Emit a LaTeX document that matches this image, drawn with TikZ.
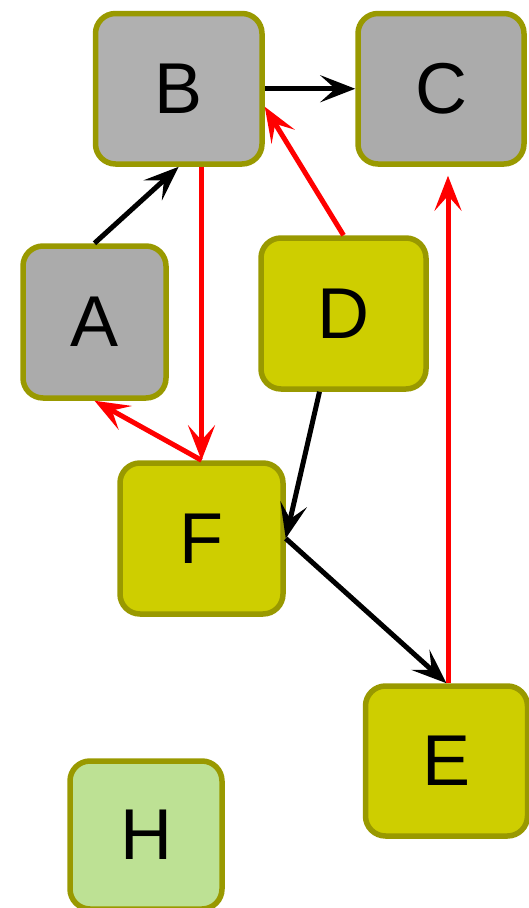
\documentclass[tikz,border=0pt]{standalone}
\usepackage{fontspec}
\setmainfont{Liberation Sans}
\usetikzlibrary{arrows.meta,calc}
\definecolor{olivebd}{RGB}{153,153,0}
\definecolor{grayB}{RGB}{176,176,176}
\definecolor{grayA}{RGB}{171,171,171}
\definecolor{yel}{RGB}{206,206,0}
\definecolor{lgreen}{RGB}{189,225,148}
\definecolor{redl}{RGB}{255,0,0}
\begin{document}
\begin{tikzpicture}[x=1pt,y=-1pt,
  box/.style={draw=olivebd, line width=5.5pt, rounded corners=20pt, inner sep=0pt,
    font=\fontsize{72}{80}\selectfont, text=black},
  link/.style={line width=5pt, -{Stealth[length=35pt,width=27pt,inset=15pt]}},
  blk/.style={link, draw=black},
  rd/.style={link, draw=redl, fill=redl}
]
\useasboundingbox (0,0) rectangle (529,908);
\node[box, fill=grayB, minimum width=166.5pt, minimum height=150.5pt] (B) at (178.75,88.75) {B};
\node[box, fill=grayA, minimum width=166pt, minimum height=150.5pt] (C) at (441,88.75) {C};
\node[box, fill=grayA, minimum width=143pt, minimum height=152pt] (A) at (94.5,322) {A};
\node[box, fill=yel, minimum width=165pt, minimum height=151pt] (D) at (343.5,313.5) {D};
\node[box, fill=yel, minimum width=163pt, minimum height=151pt] (F) at (201.5,538.5) {F};
\node[box, fill=yel, minimum width=162pt, minimum height=150pt] (E) at (446.5,761) {E};
\node[box, fill=lgreen, minimum width=152pt, minimum height=148pt] (H) at (146,835) {H};

\draw[blk] (A.north) -- (B.south);
\draw[blk] (B.east) -- (C.west);
\draw[rd] (D.north) -- ($(B.east)+(0,18)$);
\draw[rd] (B.south -| F.north) -- (F.north);
\draw[rd] (F.north) -- (A.south);
\draw[blk] ($(D.south)+(-24,0)$) -- (F.east);
\draw[blk] (F.east) -- (E.north);
\draw[rd] ($(E.north)+(1.5,0)$) -- ($(E.north |- C.south)+(1.5,9)$);
\end{tikzpicture}
\end{document}
